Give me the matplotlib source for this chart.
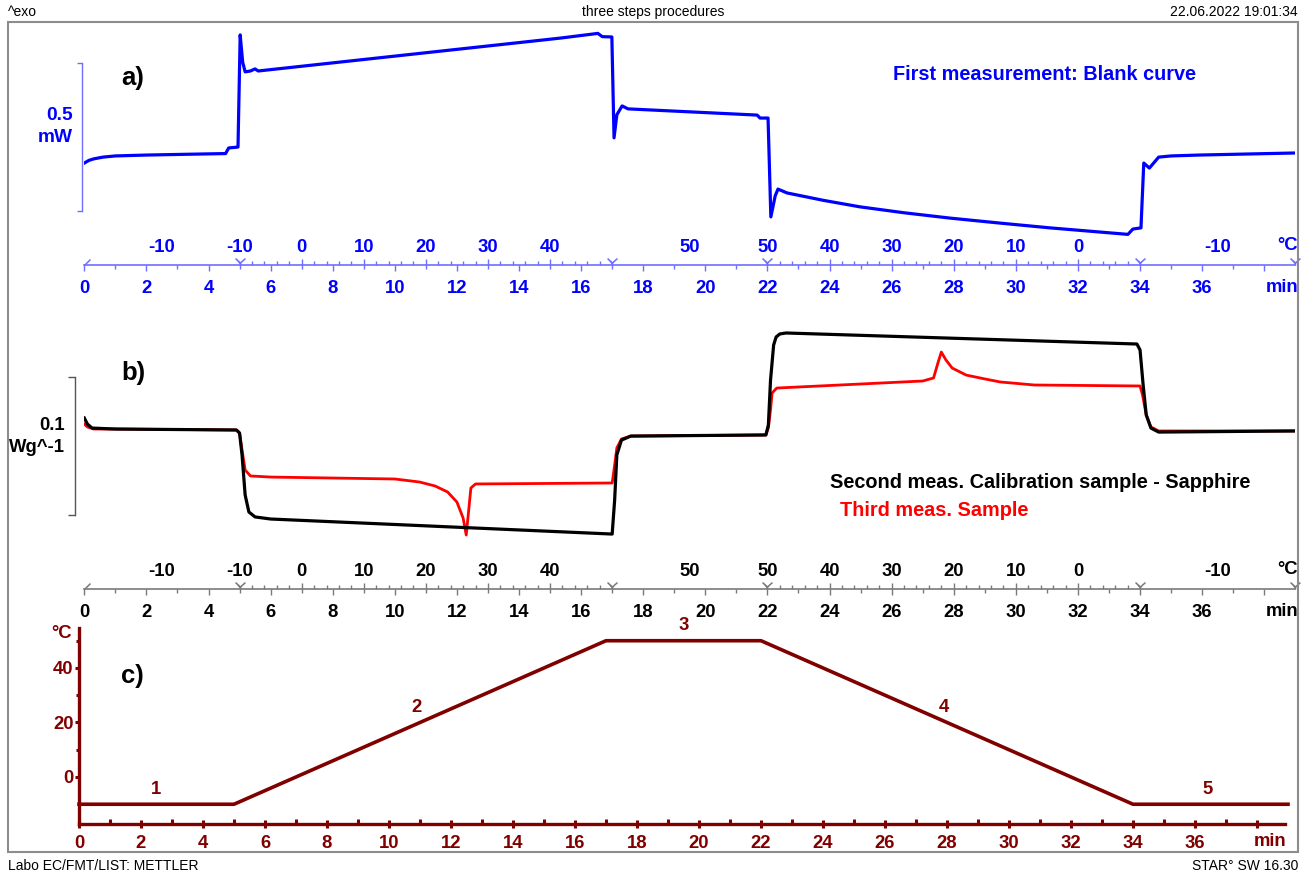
import matplotlib
matplotlib.use("Agg")
import matplotlib.pyplot as plt
from matplotlib.path import Path
from matplotlib.patches import Rectangle
import numpy as np

plt.rcParams['font.family'] = ['Liberation Sans', 'DejaVu Sans']

# ------------------------------------------------------------------ data
# temperature program (panel c)
prog_time = [0, 5, 17, 22, 34, 39]
prog_temp = [-10, -10, 50, 50, -10, -10]
seg_labels = ['1', '2', '3', '4', '5']
seg_label_t = [2.5, 10.9, 19.5, 27.9, 36.4]
seg_label_T = [-4.5, 25.5, 55.5, 25.5, -4.5]

# time axis ticks
time_ticks = list(range(0, 37, 2))
time_minor = list(range(1, 38, 2))
c_yticks = [0, 20, 40]
c_yminor = [10, 30, 50]

# temperature labels along the time axis
temp_label_t = [2.5, 5, 7, 9, 11, 13, 15, 19.5, 22, 24, 26, 28, 30, 32, 36.5]
temp_label_txt = ['-10', '-10', '0', '10', '20', '30', '40', '50', '50',
                  '40', '30', '20', '10', '0', '-10']
temp_major_t = [7, 9, 11, 13, 15, 24, 26, 28, 30, 32]

# a) first measurement: blank curve (mW)
blank_t = [0.0, 0.15, 0.3, 0.6, 1.0, 2.0, 3.5, 4.55, 4.65, 4.95, 5.02, 5.1, 5.18,
           5.35, 5.5, 5.6, 15.32, 16.54, 16.68, 16.99, 17.06, 17.15, 17.32,
           17.51, 21.67, 21.76, 22.02, 22.11, 22.25, 22.34, 22.63, 23.8, 24.98,
           26.4, 27.88, 29.5, 31.1, 33.61, 33.77, 34.03, 34.12, 34.3, 34.6, 35.0,
           35.9, 39.0]
blank_mw = [0.161, 0.170, 0.175, 0.181, 0.185, 0.188, 0.191, 0.193, 0.212, 0.215,
            0.594, 0.502, 0.469, 0.472, 0.479, 0.472, 0.583, 0.599, 0.588, 0.587,
            0.246, 0.324, 0.354, 0.344, 0.323, 0.313, 0.313, -0.021, 0.050, 0.073,
            0.060, 0.035, 0.013, -0.007, -0.025, -0.042, -0.058, -0.080, -0.062,
            -0.058, 0.161, 0.144, 0.181, 0.185, 0.188, 0.195]

# b) second measurement: sapphire (W/g)
saph_t = [0.0, 0.1, 0.25, 1.0, 4.9, 5.0, 5.08, 5.18, 5.3, 5.5, 6.0, 17.0, 17.08,
          17.15, 17.3, 17.6, 21.95, 22.03, 22.1, 22.2, 22.28, 22.4, 22.6, 33.9,
          34.0, 34.1, 34.2, 34.35, 34.6, 39.0]
saph_w = [0.0703, 0.0659, 0.0630, 0.0623, 0.0616, 0.0594, 0.0435, 0.0145, 0.0022,
          -0.0014, -0.0029, -0.0138, 0.0109, 0.0435, 0.0543, 0.0572, 0.0580,
          0.0652, 0.0978, 0.1232, 0.1290, 0.1312, 0.1319, 0.1239, 0.1196, 0.0942,
          0.0725, 0.0630, 0.0601, 0.0609]

# b) third measurement: sample (W/g)
samp_t = [0.0, 0.1, 0.3, 1.0, 4.9, 5.0, 5.08, 5.18, 5.35, 6.0, 10.0, 10.8, 11.3,
          11.7, 12.0, 12.2, 12.3, 12.38, 12.45, 12.6, 17.0, 17.08, 17.15, 17.3,
          17.6, 21.95, 22.03, 22.1, 22.15, 22.3, 27.0, 27.35, 27.5, 27.6, 27.75,
          27.95, 28.4, 29.0, 29.5, 30.6, 34.0, 34.08, 34.2, 34.35, 34.6, 39.0]
samp_w = [0.0659, 0.0638, 0.0623, 0.0623, 0.0616, 0.0594, 0.0471, 0.0326, 0.0283,
          0.0275, 0.0261, 0.0239, 0.0210, 0.0167, 0.0094, -0.0022, -0.0145, 0.0036,
          0.0196, 0.0225, 0.0232, 0.0362, 0.0486, 0.0551, 0.0572, 0.0580, 0.0630,
          0.0761, 0.0884, 0.0920, 0.0971, 0.0993, 0.1109, 0.1181, 0.1123, 0.1065,
          0.1014, 0.0986, 0.0964, 0.0942, 0.0935, 0.0870, 0.0725, 0.0638, 0.0609,
          0.0609]

# ------------------------------------------------------------------ layout
W, H = 1311, 874
fig = plt.figure(figsize=(W / 100, H / 100), dpi=100)
PX = 0.72  # points per pixel
BLUE = '#0000ff'
BLUE_AX = '#6e6eff'
MAROON = '#800000'
FS = 13.3
FS_LEG = 14.3


def rect(x0, y0, x1, y1):
    return [x0 / W, 1 - y1 / H, (x1 - x0) / W, (y1 - y0) / H]


def ftext(x, y, s, **kw):
    kw.setdefault('va', 'center')
    return fig.text(x / W, 1 - y / H, s, **kw)


Y_MARK = Path([(0, 0), (0, 2.5), (-5, 7), (0, 2.5), (5, 7)],
              [Path.MOVETO, Path.LINETO, Path.LINETO, Path.MOVETO, Path.LINETO])
START_MARK = Path([(0, 0), (1, 1)], [Path.MOVETO, Path.LINETO])


def time_temp_axis(y_ax, line_col, lab_col, x0=84.3, x1=1295.3):
    # time axis (below)
    axt = fig.add_axes(rect(x0, y_ax - 1, x1, y_ax))
    axt.set_xlim(0, 39)
    axt.set_ylim(0, 1)
    axt.patch.set_visible(False)
    for s in ['top', 'left', 'right']:
        axt.spines[s].set_visible(False)
    axt.spines['bottom'].set_color(line_col)
    axt.spines['bottom'].set_linewidth(1.2)
    axt.set_yticks([])
    axt.set_xticks(time_ticks + [38], [str(t) for t in time_ticks] + [''])
    axt.set_xticks(time_minor, minor=True)
    axt.tick_params(axis='x', which='major', direction='out', length=6 * PX,
                    width=1, color=line_col, labelcolor=lab_col, labelsize=FS,
                    pad=9.3 * PX)
    axt.tick_params(axis='x', which='minor', direction='out', length=4 * PX,
                    width=1, color=line_col)
    for lab in axt.get_xticklabels():
        lab.set_fontweight('bold')
    tr = axt.get_xaxis_transform()
    axt.plot(prog_time[1:], np.zeros(len(prog_time) - 1), transform=tr,
             linestyle='none', marker=Y_MARK, markersize=10, mew=1.1,
             color=line_col, clip_on=False)
    axt.plot(prog_time[:1], [0], transform=tr, linestyle='none',
             marker=START_MARK, markersize=8.6, mew=1.1, color=line_col,
             clip_on=False)
    # temperature ticks (above)
    axT = fig.add_axes(rect(x0, y_ax, x1, y_ax + 1))
    axT.set_xlim(0, 39)
    axT.patch.set_visible(False)
    for s in axT.spines.values():
        s.set_visible(False)
    axT.set_yticks([])
    axT.xaxis.tick_top()
    minor = list(np.arange(5.4, 16.9, 0.4)) + list(np.arange(22.4, 33.9, 0.4))
    axT.set_xticks(temp_major_t, [''] * len(temp_major_t))
    axT.set_xticks(minor, minor=True)
    axT.tick_params(axis='x', which='major', direction='out', length=6 * PX,
                    width=1, color=line_col)
    axT.tick_params(axis='x', which='minor', direction='out', length=4 * PX,
                    width=1, color=line_col)
    # temperature labels
    axL = fig.add_axes(rect(x0, y_ax, x1, y_ax + 1))
    axL.set_xlim(0, 39)
    axL.xaxis.tick_top()
    axL.set_xticks(temp_label_t, temp_label_txt)
    axL.tick_params(axis='x', which='major', length=0, labelcolor=lab_col,
                    labelsize=FS, pad=9.4 * PX)
    for lab in axL.get_xticklabels():
        lab.set_fontweight('bold')
    for s in axL.spines.values():
        s.set_visible(False)
    axL.set_yticks([])
    axL.patch.set_visible(False)
    ftext(1298, y_ax - 20, '°C', ha='right', color=lab_col, fontsize=FS,
          fontweight='bold')
    ftext(1298, y_ax + 22, 'min', ha='right', color=lab_col, fontsize=FS,
          fontweight='bold')


# ---------------- panel a
axa = fig.add_axes(rect(84.3, 22, 1295.3, 240))
axa.plot(blank_t, blank_mw, color=BLUE, lw=2.3, solid_joinstyle='round')
axa.set_xlim(0, 39)
axa.set_ylim(-0.099, 0.6375)
axa.patch.set_visible(False)
for s in ['top', 'right', 'bottom']:
    axa.spines[s].set_visible(False)
axa.spines['left'].set_position(('outward', 2.6 * PX))
axa.spines['left'].set_bounds(0, 0.5)
axa.spines['left'].set_color(BLUE_AX)
axa.spines['left'].set_linewidth(1.0)
axa.set_xticks([])
axa.set_yticks([0, 0.5], ['', ''])
axa.tick_params(axis='y', direction='out', length=5 * PX, width=1.0,
                color=BLUE_AX)
time_temp_axis(265, BLUE_AX, BLUE)
ftext(72.7, 115, '0.5', ha='right', color=BLUE, fontsize=13.8, fontweight='bold')
ftext(72.7, 137, 'mW', ha='right', color=BLUE, fontsize=13.8, fontweight='bold')
ftext(121, 78, 'a)', ha='left', color='black', fontsize=18.5, fontweight='bold')
ftext(893, 75, 'First measurement: Blank curve', ha='left', color=BLUE,
      fontsize=FS_LEG, fontweight='bold')

# ---------------- panel b
axb = fig.add_axes(rect(84.3, 300, 1295.3, 560))
axb.plot(samp_t, samp_w, color='#ff0000', lw=2.0, solid_joinstyle='round')
axb.plot(saph_t, saph_w, color='black', lw=2.3, solid_joinstyle='round')
axb.set_xlim(0, 39)
axb.set_ylim(-0.0326, 0.1558)
axb.patch.set_visible(False)
for s in ['top', 'right', 'bottom']:
    axb.spines[s].set_visible(False)
axb.spines['left'].set_position(('outward', 9.3 * PX))
axb.spines['left'].set_bounds(0, 0.1)
axb.spines['left'].set_color('#555555')
axb.spines['left'].set_linewidth(1.0)
axb.set_xticks([])
axb.set_yticks([0, 0.1], ['', ''])
axb.tick_params(axis='y', direction='out', length=7 * PX, width=1.0,
                color='#555555')
time_temp_axis(589, '#7a7a7a', 'black')
ftext(65, 426, '0.1', ha='right', color='black', fontsize=FS, fontweight='bold')
ftext(65, 448, 'Wg^-1', ha='right', color='black', fontsize=FS, fontweight='bold')
ftext(121, 373, 'b)', ha='left', color='black', fontsize=18.5, fontweight='bold')
ftext(830, 482, 'Second meas. Calibration sample - Sapphire', ha='left',
      color='black', fontsize=FS_LEG, fontweight='bold')
ftext(840, 511, 'Third meas. Sample', ha='left', color='#ff0000',
      fontsize=FS_LEG, fontweight='bold')

# ---------------- panel c
axc = fig.add_axes(rect(79, 620, 1288, 824))
axc.plot(prog_time, prog_temp, color=MAROON, lw=2.6, clip_on=False)
axc.set_xlim(0, 39)
axc.set_ylim(-17.25, 57.6)
axc.patch.set_visible(False)
for s in ['top', 'right']:
    axc.spines[s].set_visible(False)
for s in ['left', 'bottom']:
    axc.spines[s].set_color(MAROON)
    axc.spines[s].set_linewidth(2.4)
axc.spines['left'].set_bounds(-17.25, 54.5)
axc.spines['bottom'].set_bounds(0, 38.9)
axc.set_xticks(time_ticks + [38], [str(t) for t in time_ticks] + [''])
axc.set_xticks(time_minor, minor=True)
axc.set_yticks(c_yticks, [str(v) for v in c_yticks])
axc.set_yticks(c_yminor, minor=True)
axc.tick_params(axis='x', which='major', direction='inout', length=8 * PX,
                width=2.2, color=MAROON, labelcolor=MAROON, labelsize=FS,
                pad=7.5 * PX)
axc.tick_params(axis='x', which='minor', direction='in', length=5 * PX,
                width=2.2, color=MAROON)
axc.tick_params(axis='y', which='major', direction='out', length=4 * PX,
                width=2.2, color=MAROON, labelcolor=MAROON, labelsize=FS,
                pad=1.5 * PX)
axc.tick_params(axis='y', which='minor', direction='out', length=3 * PX,
                width=2.2, color=MAROON)
for lab in axc.get_xticklabels() + axc.get_yticklabels():
    lab.set_fontweight('bold')
for s, t, T in zip(seg_labels, seg_label_t, seg_label_T):
    axc.text(t, T, s, ha='center', va='center', color=MAROON, fontsize=FS,
             fontweight='bold')
ftext(1286, 842, 'min', ha='right', color=MAROON, fontsize=FS, fontweight='bold')
ftext(62, 633, '°C', ha='center', color=MAROON, fontsize=FS, fontweight='bold')
ftext(121, 676, 'c)', ha='left', color='black', fontsize=18.5, fontweight='bold')

# ---------------- frame, header, footer
fig.patches.append(Rectangle((8 / W, 1 - 852 / H), 1290 / W, 830 / H,
                             transform=fig.transFigure, fill=False,
                             ec='#8c8c8c', lw=1.5))
ftext(8, 12, '^exo', ha='left', fontsize=10, color='black')
ftext(653, 12, 'three steps procedures', ha='center', fontsize=10, color='black')
ftext(1298, 12, '22.06.2022 19:01:34', ha='right', fontsize=10, color='black')
ftext(8, 866, 'Labo EC/FMT/LIST: METTLER', ha='left', fontsize=10, color='black')
ftext(1298, 866, 'STAR° SW 16.30', ha='right', fontsize=10, color='black')

fig.savefig('out.png', dpi=100)
